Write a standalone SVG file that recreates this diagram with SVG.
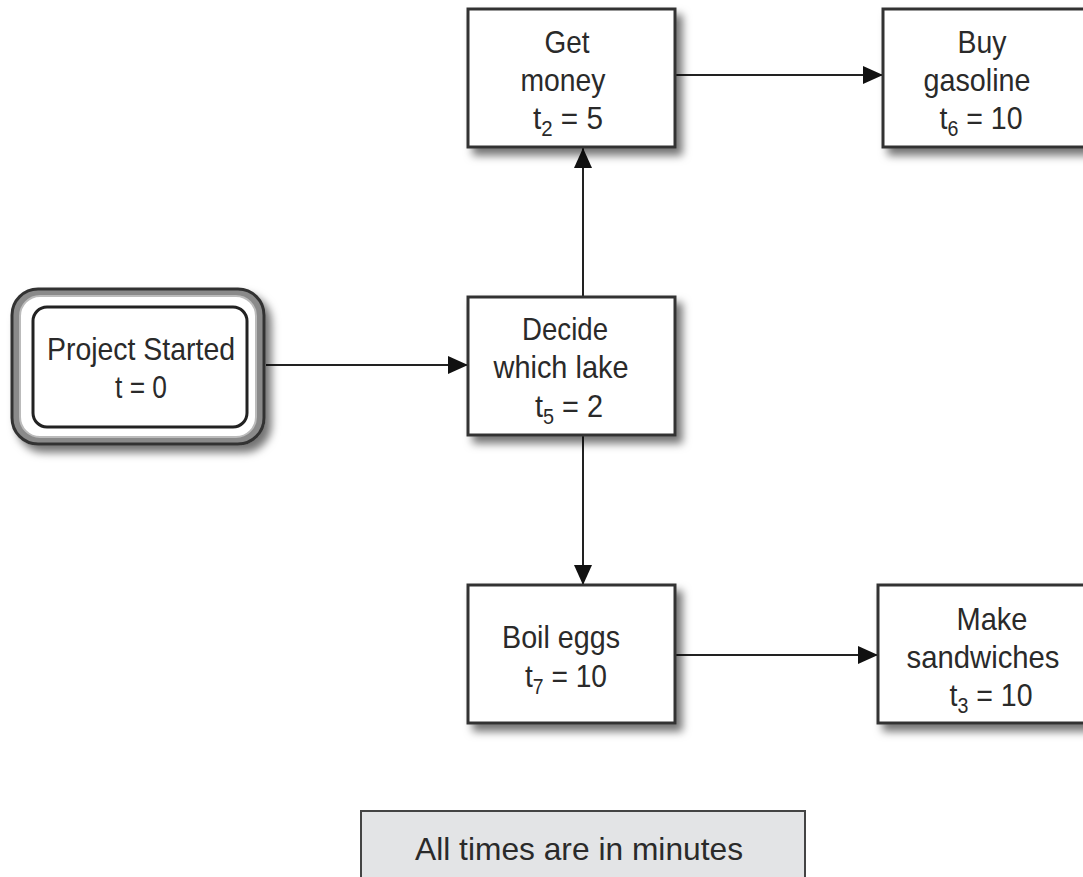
<svg xmlns="http://www.w3.org/2000/svg" width="1083" height="877" viewBox="0 0 1083 877">
<defs>
<style>
.t{font-family:"Liberation Sans",Arial,sans-serif;font-size:32px;fill:#2a2a2a;text-anchor:middle}
.s{font-size:22px}
.box{fill:#fff;stroke:#333;stroke-width:3}
.edge{stroke:#222;stroke-width:2;fill:none}
</style>
<filter id="sh" x="-20%" y="-20%" width="150%" height="150%">
<feDropShadow dx="6" dy="7" stdDeviation="4" flood-color="#000" flood-opacity="0.55"/>
</filter>
<marker id="ah" markerUnits="userSpaceOnUse" markerWidth="22" markerHeight="20" refX="20" refY="9" orient="auto">
<path d="M0,0 L20,9 L0,18 Z" fill="#111"/>
</marker>
</defs>
<rect width="1083" height="877" fill="#fff"/>
<g id="connectors">
<line class="edge" x1="266" y1="365" x2="468" y2="365" marker-end="url(#ah)"/>
<line class="edge" x1="583" y1="297" x2="583" y2="148" marker-end="url(#ah)"/>
<line class="edge" x1="675" y1="75" x2="883" y2="75" marker-end="url(#ah)"/>
<line class="edge" x1="583" y1="435" x2="583" y2="585" marker-end="url(#ah)"/>
<line class="edge" x1="675" y1="655" x2="878" y2="655" marker-end="url(#ah)"/>
</g>
<g id="start">
<rect x="12" y="289" width="252" height="155" rx="26" fill="#8a8a8a" stroke="#333" stroke-width="3" filter="url(#sh)"/>
<rect x="20" y="296" width="236" height="141" rx="20" fill="#fff" stroke="#bbb" stroke-width="2"/>
<rect x="33" y="307" width="214" height="120" rx="14" fill="#fff" stroke="#222" stroke-width="3"/>
<text class="t" x="141" y="360" textLength="188" lengthAdjust="spacingAndGlyphs">Project Started</text>
<text class="t" x="141" y="398" textLength="52" lengthAdjust="spacingAndGlyphs">t = 0</text>
</g>
<g id="getmoney">
<rect class="box" x="468" y="9" width="207" height="138" filter="url(#sh)"/>
<text class="t" x="567" y="53" textLength="45" lengthAdjust="spacingAndGlyphs">Get</text>
<text class="t" x="563" y="91" textLength="85" lengthAdjust="spacingAndGlyphs">money</text>
<text class="t" x="568" y="129" textLength="70" lengthAdjust="spacingAndGlyphs">t<tspan class="s" dy="7">2</tspan><tspan dy="-7"> = 5</tspan></text>
</g>
<g id="gasoline">
<rect class="box" x="883" y="9" width="210" height="138" filter="url(#sh)"/>
<text class="t" x="982" y="53" textLength="49" lengthAdjust="spacingAndGlyphs">Buy</text>
<text class="t" x="977" y="91" textLength="107" lengthAdjust="spacingAndGlyphs">gasoline</text>
<text class="t" x="981" y="129" textLength="83" lengthAdjust="spacingAndGlyphs">t<tspan class="s" dy="7">6</tspan><tspan dy="-7"> = 10</tspan></text>
</g>
<g id="decide">
<rect class="box" x="468" y="297" width="207" height="138" filter="url(#sh)"/>
<text class="t" x="565" y="340" textLength="86" lengthAdjust="spacingAndGlyphs">Decide</text>
<text class="t" x="561" y="378" textLength="135" lengthAdjust="spacingAndGlyphs">which lake</text>
<text class="t" x="569" y="417" textLength="68" lengthAdjust="spacingAndGlyphs">t<tspan class="s" dy="7">5</tspan><tspan dy="-7"> = 2</tspan></text>
</g>
<g id="boileggs">
<rect class="box" x="468" y="585" width="207" height="138" filter="url(#sh)"/>
<text class="t" x="561" y="648" textLength="118" lengthAdjust="spacingAndGlyphs">Boil eggs</text>
<text class="t" x="566" y="687" textLength="82" lengthAdjust="spacingAndGlyphs">t<tspan class="s" dy="7">7</tspan><tspan dy="-7"> = 10</tspan></text>
</g>
<g id="sandwiches">
<rect class="box" x="878" y="585" width="215" height="138" filter="url(#sh)"/>
<text class="t" x="992" y="630" textLength="71" lengthAdjust="spacingAndGlyphs">Make</text>
<text class="t" x="983" y="668" textLength="153" lengthAdjust="spacingAndGlyphs">sandwiches</text>
<text class="t" x="991" y="706" textLength="83" lengthAdjust="spacingAndGlyphs">t<tspan class="s" dy="7">3</tspan><tspan dy="-7"> = 10</tspan></text>
</g>
<g id="note">
<rect x="361" y="811" width="444" height="80" fill="#e3e4e6" stroke="#444" stroke-width="2"/>
<text class="t" x="579" y="860" textLength="328" lengthAdjust="spacingAndGlyphs">All times are in minutes</text>
</g>
</svg>
